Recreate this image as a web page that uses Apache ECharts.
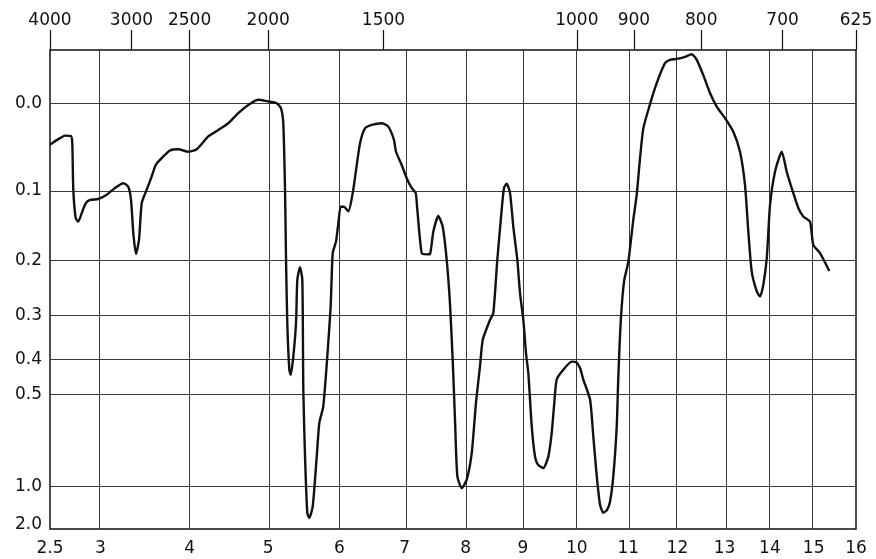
<!DOCTYPE html>
<html><head><meta charset="utf-8">
<script src="https://cdn.jsdelivr.net/npm/echarts@6/dist/echarts.min.js"></script>
<style>html,body{margin:0;padding:0;background:#fff}#c{width:876px;height:559px}</style>
</head><body><div id="c"></div>
<script>
// Wavelength (µm) of each traced point
const wavelength = [2.500, 2.531, 2.596, 2.644, 2.703, 2.716, 2.726, 2.750, 2.776, 2.810,
 2.850, 2.894, 2.979, 3.067, 3.155, 3.244, 3.298, 3.328, 3.353, 3.383,
 3.416, 3.446, 3.502, 3.558, 3.604, 3.672, 3.768, 3.866, 3.985, 4.086,
 4.228, 4.352, 4.478, 4.606, 4.736, 4.868, 5.001, 5.114, 5.173, 5.204,
 5.228, 5.241, 5.259, 5.287, 5.306, 5.342, 5.380, 5.398, 5.435, 5.468,
 5.482, 5.506, 5.538, 5.566, 5.615, 5.672, 5.709, 5.766, 5.824, 5.873,
 5.903, 5.951, 5.985, 6.020, 6.069, 6.133, 6.198, 6.248, 6.308, 6.383,
 6.485, 6.639, 6.741, 6.830, 6.862, 6.952, 7.031, 7.111, 7.175, 7.201,
 7.272, 7.353, 7.407, 7.461, 7.543, 7.616, 7.682, 7.737, 7.782, 7.821,
 7.860, 7.934, 8.019, 8.104, 8.177, 8.246, 8.293, 8.419, 8.477, 8.547,
 8.624, 8.665, 8.713, 8.772, 8.830, 8.902, 8.950, 9.010, 9.058, 9.100,
 9.162, 9.222, 9.276, 9.373, 9.466, 9.528, 9.571, 9.621, 9.744, 9.902,
 9.984, 10.060, 10.123, 10.252, 10.315, 10.381, 10.445, 10.509, 10.581, 10.639,
 10.704, 10.771, 10.802, 10.850, 10.915, 11.001, 11.100, 11.168, 11.235, 11.301,
 11.422, 11.573, 11.743, 11.846, 11.985, 12.159, 12.299, 12.405, 12.544, 12.687,
 12.831, 13.010, 13.190, 13.336, 13.446, 13.519, 13.594, 13.706, 13.779, 13.853,
 13.929, 14.003, 14.115, 14.267, 14.380, 14.517, 14.645, 14.760, 14.915, 14.992,
 15.148, 15.366];
// Transmittance (%) of each traced point
const transmittance = [90.3, 90.8, 91.8, 92.4, 92.3, 90.6, 79.7, 73.0, 72.2, 74.2,
 76.5, 77.3, 77.5, 78.5, 80.1, 81.2, 80.4, 77.3, 69.5, 64.6,
 67.9, 76.5, 79.7, 82.8, 85.5, 87.1, 88.9, 89.2, 88.6, 89.2,
 92.2, 93.7, 95.3, 97.7, 99.6, 100.8, 100.4, 100.0, 98.8, 95.3,
 79.7, 64.0, 48.4, 37.4, 36.2, 40.5, 48.4, 58.5, 61.5, 58.5,
 32.7, 17.0, 3.8, 2.6, 5.3, 17.0, 24.9, 28.8, 40.5, 52.3,
 64.8, 67.5, 71.8, 75.7, 75.7, 74.6, 78.9, 84.3, 90.6, 94.1,
 94.9, 95.3, 94.5, 91.4, 88.6, 85.5, 82.4, 80.1, 78.9, 75.0,
 64.8, 64.5, 64.6, 69.8, 73.5, 71.0, 63.2, 52.9, 39.7, 25.7,
 12.4, 9.6, 11.6, 17.8, 29.6, 38.2, 44.4, 49.1, 50.7, 63.2,
 75.0, 80.1, 81.1, 78.9, 71.0, 63.2, 55.4, 49.1, 41.3, 36.6,
 24.1, 17.0, 15.1, 14.3, 17.0, 22.5, 28.8, 35.1, 37.4, 39.3,
 39.2, 37.8, 35.1, 30.4, 21.7, 12.4, 5.7, 3.8, 4.5, 6.4,
 12.4, 24.1, 35.5, 48.7, 58.1, 62.8, 72.6, 78.5, 87.1, 94.1,
 99.2, 104.7, 109.4, 110.2, 110.4, 110.9, 111.5, 110.2, 106.6, 102.4,
 99.2, 96.5, 93.3, 88.6, 80.8, 69.9, 60.5, 55.8, 54.6, 57.4,
 63.6, 76.1, 83.9, 88.6, 83.9, 79.3, 75.4, 73.4, 72.2, 66.7,
 64.8, 60.6];

const micronTicks = [2.5, 3, 4, 5, 6, 7, 8, 9, 10, 11, 12, 13, 14, 15, 16];
const wavenumberTicks = [4000, 3000, 2500, 2000, 1500, 1000, 900, 800, 700, 625];
const absorbanceTicks = [0.0, 0.1, 0.2, 0.3, 0.4, 0.5, 1.0, 2.0];
const absorbanceGrid = [0.0, 0.1, 0.2, 0.3, 0.4, 0.5, 1.0];
const transmittanceTop = 112.5;

// chart scale: x axis is linear in sqrt(wavelength); y axis linear in transmittance
const sx = l => Math.sqrt(l);
const tOfA = a => 100 * Math.pow(10, -a);

const points = wavelength.map((l, i) => [sx(l), transmittance[i]]);
const FONT = '"DejaVu Sans", sans-serif';
const gridStyle = { color: '#3a3a3a', width: 1, type: 'solid' };

const chart = echarts.init(document.getElementById('c'), null, { renderer: 'canvas' });
chart.setOption({
  animation: false,
  backgroundColor: '#fff',
  grid: { left: 50, right: 20, top: 50, bottom: 30, show: true, borderColor: '#111', borderWidth: 1.5, backgroundColor: 'transparent' },
  xAxis: [{
    type: 'value', position: 'bottom', min: sx(2.5), max: sx(16),
    axisLine: { show: false }, axisTick: { show: false }, splitLine: { show: false },
    axisLabel: {
      customValues: micronTicks.map(sx), margin: 11, color: '#111', fontSize: 17, fontFamily: FONT,
      formatter: v => String(Math.round(v * v * 10) / 10)
    }
  }, {
    type: 'value', position: 'top', min: sx(2.5), max: sx(16),
    axisLine: { show: false }, splitLine: { show: false },
    axisTick: { show: true, inside: false, length: 20, customValues: wavenumberTicks.map(n => sx(10000 / n)), lineStyle: { color: '#111', width: 1.2 } },
    axisLabel: {
      customValues: wavenumberTicks.map(n => sx(10000 / n)), margin: 21, color: '#111', fontSize: 17, fontFamily: FONT,
      formatter: v => String(Math.round(10000 / (v * v)))
    }
  }],
  yAxis: {
    type: 'value', min: 0, max: transmittanceTop,
    axisLine: { show: false }, axisTick: { show: false }, splitLine: { show: false },
    axisLabel: {
      customValues: absorbanceTicks.map(tOfA), margin: 8, color: '#111', fontSize: 17, fontFamily: FONT,
      formatter: v => Math.abs(-Math.log10(v / 100)).toFixed(1)
    }
  },
  series: [{
    type: 'line', xAxisIndex: 0, yAxisIndex: 0, data: points, showSymbol: false, smooth: 0.2,
    lineStyle: { color: '#111', width: 2.4 }, z: 5,
    markLine: {
      silent: true, symbol: ['none', 'none'], label: { show: false }, animation: false,
      lineStyle: gridStyle, z: 1,
      data: micronTicks.slice(1, -1).map(l => ({ xAxis: sx(l), lineStyle: gridStyle }))
        .concat(absorbanceGrid.map(a => ({ yAxis: tOfA(a), lineStyle: gridStyle })))
    }
  }]
});
</script></body></html>
